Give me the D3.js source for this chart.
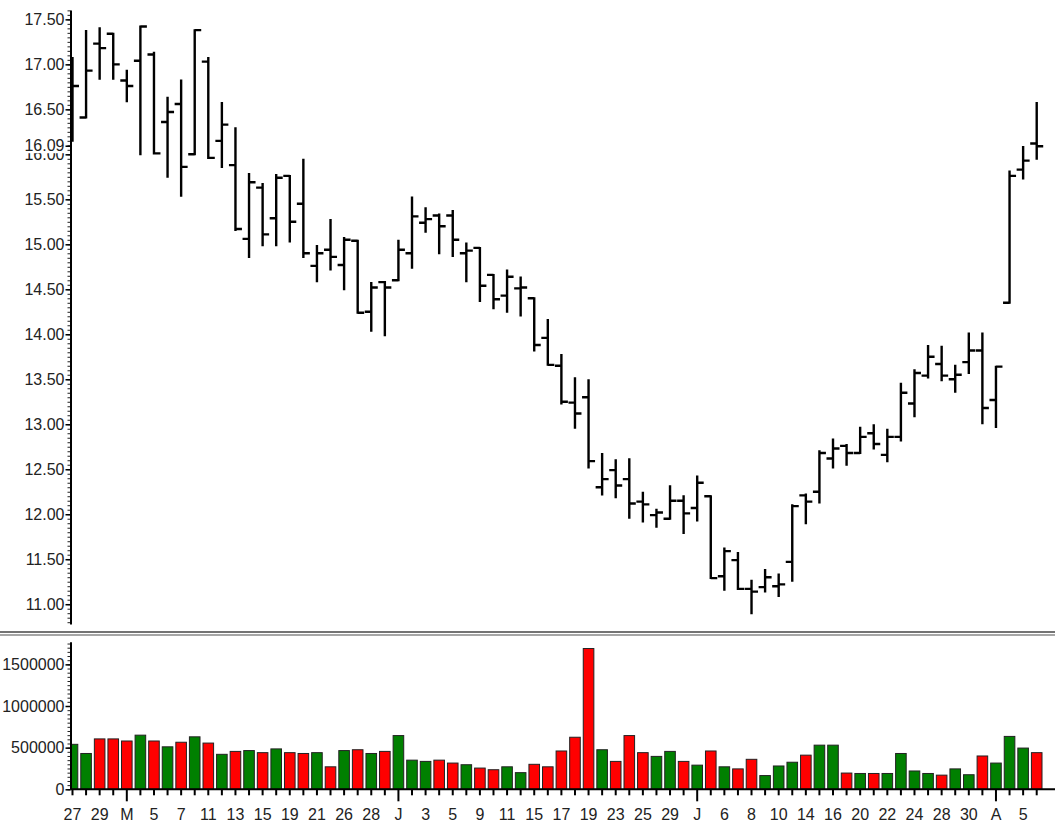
<html>
<head>
<script src="https://d3js.org/d3.v7.min.js"></script>
<style>
  body { margin: 0; background: #fff; }
  text { font-family: "Liberation Sans", Arial, sans-serif; }
</style>
</head>
<body>
<div id="chart"></div>
<script>
// trading days, Apr 27 - Aug 6 1998
const days = [
  "1998-04-27","1998-04-28","1998-04-29","1998-04-30",
  "1998-05-01","1998-05-04","1998-05-05","1998-05-06","1998-05-07","1998-05-08",
  "1998-05-11","1998-05-12","1998-05-13","1998-05-14","1998-05-15",
  "1998-05-18","1998-05-19","1998-05-20","1998-05-21","1998-05-22",
  "1998-05-26","1998-05-27","1998-05-28","1998-05-29",
  "1998-06-01","1998-06-02","1998-06-03","1998-06-04","1998-06-05",
  "1998-06-08","1998-06-09","1998-06-10","1998-06-11","1998-06-12",
  "1998-06-15","1998-06-16","1998-06-17","1998-06-18","1998-06-19",
  "1998-06-22","1998-06-23","1998-06-24","1998-06-25","1998-06-26",
  "1998-06-29","1998-06-30",
  "1998-07-01","1998-07-02","1998-07-06","1998-07-07","1998-07-08","1998-07-09","1998-07-10",
  "1998-07-13","1998-07-14","1998-07-15","1998-07-16","1998-07-17",
  "1998-07-20","1998-07-21","1998-07-22","1998-07-23","1998-07-24",
  "1998-07-27","1998-07-28","1998-07-29","1998-07-30","1998-07-31",
  "1998-08-03","1998-08-04","1998-08-05","1998-08-06"
];

const opens = [
  16.30,16.41,17.23,17.34,16.82,17.04,17.11,16.36,16.56,16.00,
  17.03,16.15,15.88,15.06,15.63,15.29,15.76,15.45,14.76,14.94,
  14.77,15.04,14.25,14.58,14.60,14.90,15.24,15.32,15.32,14.90,
  14.96,14.66,14.43,14.51,14.40,13.96,13.65,13.24,13.30,12.30,
  12.49,12.39,12.14,11.99,11.95,12.15,12.07,12.20,11.31,11.49,
  11.17,11.19,11.20,11.47,12.21,12.25,12.62,12.76,12.68,12.90,
  12.66,12.86,13.23,13.54,13.67,13.50,13.69,13.82,13.27,14.35,
  15.83,16.12
];
const highs = [
  17.07,17.37,17.40,17.34,16.93,17.42,17.13,16.63,16.82,17.38,
  17.07,16.57,16.29,15.78,15.67,15.77,15.76,15.94,14.98,15.27,
  15.07,15.04,14.57,14.58,15.04,15.52,15.40,15.33,15.37,15.01,
  14.96,14.66,14.71,14.63,14.40,14.16,13.77,13.51,13.49,12.67,
  12.60,12.61,12.24,12.05,12.31,12.20,12.42,12.20,11.62,11.57,
  11.26,11.38,11.33,12.10,12.22,12.70,12.83,12.77,12.96,12.99,
  12.94,13.45,13.60,13.87,13.86,13.65,14.01,14.01,13.64,15.81,
  16.08,16.57
];
const lows = [
  16.15,16.41,16.84,16.84,16.59,16.00,16.01,15.75,15.54,16.00,
  15.96,15.86,15.16,14.86,14.99,14.99,15.03,14.86,14.59,14.72,
  14.50,14.24,14.04,13.99,14.60,14.74,15.14,14.90,14.87,14.59,
  14.37,14.29,14.25,14.21,13.82,13.66,13.23,12.96,12.52,12.22,
  12.19,11.96,11.92,11.86,11.95,11.79,11.93,11.29,11.16,11.17,
  10.90,11.14,11.09,11.26,11.90,12.13,12.52,12.55,12.68,12.73,
  12.59,12.82,13.09,13.52,13.49,13.36,13.57,13.01,12.97,14.35,
  15.73,15.95
];
const closes = [
  16.76,16.93,17.18,17.00,16.76,17.42,16.01,16.47,15.86,17.38,
  15.96,16.33,15.17,15.69,15.11,15.74,15.25,14.90,14.90,14.86,
  15.05,14.24,14.52,14.52,14.94,15.31,15.28,15.20,15.05,14.93,
  14.54,14.39,14.64,14.52,13.88,13.66,13.25,13.12,12.59,12.39,
  12.32,12.12,12.11,12.02,12.15,12.01,12.35,11.29,11.59,11.17,
  11.14,11.30,11.22,12.09,12.14,12.68,12.73,12.68,12.86,12.78,
  12.86,13.35,13.57,13.75,13.54,13.55,13.82,13.18,13.64,15.76,
  15.93,16.09
];
const volumes = [
  540000,430000,605000,605000,580000,650000,580000,510000,565000,630000,
  555000,420000,455000,465000,440000,485000,440000,430000,440000,270000,
  465000,475000,430000,455000,645000,350000,335000,350000,315000,295000,
  255000,235000,270000,200000,300000,270000,460000,625000,1690000,475000,
  335000,645000,440000,395000,455000,335000,290000,460000,270000,245000,
  360000,165000,280000,325000,410000,530000,530000,195000,190000,190000,
  190000,430000,220000,190000,170000,245000,175000,400000,315000,635000,
  495000,440000
];

const priceTicks = [11,11.5,12,12.5,13,13.5,14,14.5,15,15.5,16,16.5,17,17.5];
const volumeTicks = [0,500000,1000000,1500000];
const monthLetters = ["J","F","M","A","M","J","J","A","S","O","N","D"];

const W = 1055, H = 822;
const axisX = 70.5;

const svg = d3.select("#chart").append("svg")
  .attr("width", W).attr("height", H);

const parse = d3.timeParse("%Y-%m-%d");
const dates = days.map(parse);
const bars = days.map((d, i) => ({
  day: d, date: dates[i], o: opens[i], h: highs[i], l: lows[i], c: closes[i], v: volumes[i],
  monthStart: i > 0 && dates[i].getMonth() !== dates[i - 1].getMonth()
}));

const x = d3.scaleBand().domain(days).range([65.7, 1043.5])
  .paddingInner(0.22).paddingOuter(0.11);
const cx = d => x(d) + x.bandwidth() / 2;

const yP = d3.scaleLinear().domain([10.78, 17.604]).range([624, 10]);
const yV = d3.scaleLinear().domain([0, 1772000]).range([789.3, 641.7]);

svg.append("clipPath").attr("id", "plotClip")
  .append("rect").attr("x", axisX + 1).attr("y", 0).attr("width", W).attr("height", H);

// ---- price bars (OHLC)
svg.append("g").attr("clip-path", "url(#plotClip)")
  .selectAll("path").data(bars).enter().append("path")
  .attr("d", d => {
    const c = cx(d.day);
    return "M" + c + "," + (yP(d.h) - 1) + "V" + (yP(d.l) + 1) +
      "M" + (c - 6.5) + "," + yP(d.o) + "H" + c +
      "M" + c + "," + yP(d.c) + "H" + (c + 6.5);
  })
  .attr("fill", "none")
  .attr("stroke", "#000")
  .attr("stroke-width", 2.4);

// ---- volume bars
svg.append("g").attr("clip-path", "url(#plotClip)")
  .selectAll("rect").data(bars).enter().append("rect")
  .attr("x", d => x(d.day))
  .attr("width", x.bandwidth())
  .attr("y", d => yV(d.v))
  .attr("height", d => yV(0) - yV(d.v))
  .attr("fill", d => d.c >= d.o ? "#008000" : "#ff0000")
  .attr("stroke", "#222")
  .attr("stroke-width", 1);

// ---- price axis
const minorP = d3.range(0, 137).map(k => +(10.8 + k * 0.05).toFixed(2)).filter(v => v <= 17.6);
svg.append("g").attr("transform", `translate(${axisX},0)`)
  .call(d3.axisLeft(yP).tickValues(minorP).tickSize(3).tickFormat("").tickSizeOuter(0))
  .call(g => g.select(".domain").remove())
  .call(g => g.selectAll("line").attr("stroke", "#222"));

const pAxis = svg.append("g").attr("transform", `translate(${axisX},0)`)
  .call(d3.axisLeft(yP).tickValues(priceTicks).tickFormat(d3.format(".2f"))
    .tickSize(5).tickPadding(1).tickSizeOuter(0));
pAxis.select(".domain").attr("stroke", "#000").attr("stroke-width", 2);
pAxis.selectAll("line").attr("stroke", "#000").attr("stroke-width", 1.5);
pAxis.selectAll("text").attr("font-size", 16).attr("fill", "#222");

// last close label
const lastY = yP(closes[closes.length - 1]);
const lastG = svg.append("g");
lastG.append("rect").attr("x", 18).attr("y", lastY - 7).attr("width", 47).attr("height", 14).attr("fill", "#fff");
lastG.append("line").attr("x1", axisX - 5).attr("x2", axisX).attr("y1", lastY).attr("y2", lastY)
  .attr("stroke", "#000").attr("stroke-width", 1.5);
lastG.append("text").attr("x", axisX - 6).attr("y", lastY).attr("dy", "0.32em")
  .attr("text-anchor", "end").attr("font-size", 16).attr("fill", "#222")
  .text(d3.format(".2f")(closes[closes.length - 1]));

// ---- separator
svg.append("line").attr("x1", 0).attr("x2", W).attr("y1", 632).attr("y2", 632)
  .attr("stroke", "#444").attr("stroke-width", 1.5);
svg.append("line").attr("x1", 0).attr("x2", W).attr("y1", 635).attr("y2", 635)
  .attr("stroke", "#888").attr("stroke-width", 1.5);

// ---- volume axis
const minorV = d3.range(0, 36).map(k => k * 50000);
svg.append("g").attr("transform", `translate(${axisX},0)`)
  .call(d3.axisLeft(yV).tickValues(minorV).tickSize(3).tickFormat("").tickSizeOuter(0))
  .call(g => g.select(".domain").remove())
  .call(g => g.selectAll("line").attr("stroke", "#222"));

const vAxis = svg.append("g").attr("transform", `translate(${axisX},0)`)
  .call(d3.axisLeft(yV).tickValues(volumeTicks).tickFormat(d3.format("d"))
    .tickSize(5).tickPadding(1).tickSizeOuter(0));
vAxis.select(".domain").attr("stroke", "#000").attr("stroke-width", 2);
vAxis.selectAll("line").attr("stroke", "#000").attr("stroke-width", 1.5);
vAxis.selectAll("text").attr("font-size", 16).attr("fill", "#222");

// ---- date axis
const xAxis = svg.append("g").attr("transform", `translate(0,${yV(0)})`)
  .call(d3.axisBottom(x).tickSize(6).tickPadding(13).tickSizeOuter(0)
    .tickFormat((d, i) => {
      if (i % 2) return "";
      const b = bars[i];
      return b.monthStart ? monthLetters[b.date.getMonth()] : String(b.date.getDate());
    }));
xAxis.select(".domain").attr("d", `M${axisX},0H${W}`).attr("stroke", "#000").attr("stroke-width", 2);
xAxis.selectAll(".tick line")
  .attr("stroke", "#000").attr("stroke-width", 2)
  .attr("y2", (d, i) => bars[i].monthStart ? 12 : 6);
xAxis.selectAll("text").attr("font-size", 16).attr("fill", "#222");
</script>
</body>
</html>
